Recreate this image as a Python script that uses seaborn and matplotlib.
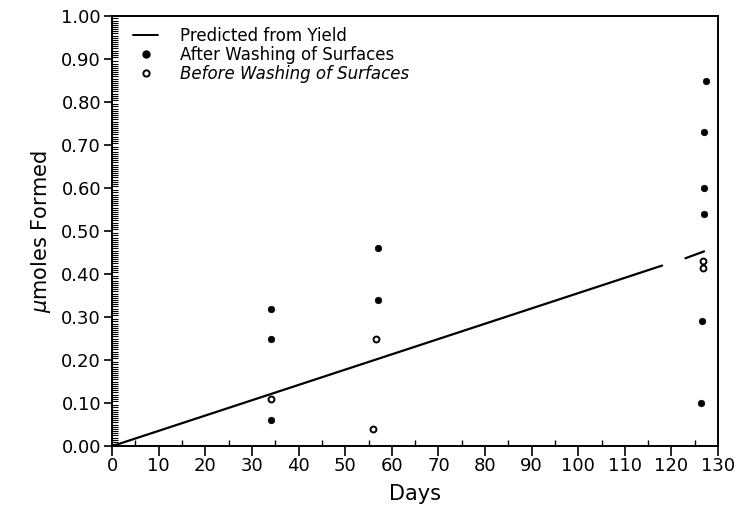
import numpy as np
import pandas as pd
import matplotlib
matplotlib.use("Agg")
import matplotlib.pyplot as plt
from matplotlib.lines import Line2D
from matplotlib.ticker import MultipleLocator, FormatStrFormatter
import seaborn as sns

# ---- data ----
line_days = [0, 118, 123, 127]
line_vals = [0.0, 0.420, 0.437, 0.453]
line_segment = [0, 0, 1, 1]

after_days = [34, 34, 34, 57, 57, 127.5, 127, 127, 127, 126.5, 126.3]
after_vals = [0.32, 0.25, 0.06, 0.46, 0.34, 0.85, 0.73, 0.60, 0.54, 0.29, 0.10]

before_days = [34, 56.5, 56, 126.8, 126.8]
before_vals = [0.11, 0.25, 0.04, 0.43, 0.415]

legend_labels = ["Predicted from Yield", "After Washing of Surfaces", "Before Washing of Surfaces"]

sns.set_style("ticks")
plt.rcParams['font.family'] = ['DejaVu Sans']
plt.rcParams['text.color'] = 'black'
plt.rcParams['axes.labelcolor'] = 'black'
plt.rcParams['xtick.color'] = 'black'
plt.rcParams['ytick.color'] = 'black'

fig = plt.figure(figsize=(7.38, 5.23), dpi=100)
ax = fig.add_axes([0.152, 0.147, 0.821, 0.822])

line_df = pd.DataFrame({"days": line_days, "val": line_vals, "seg": line_segment})
sns.lineplot(data=line_df, x="days", y="val", units="seg", estimator=None,
             color="black", linewidth=1.6, ax=ax, legend=False)

after_df = pd.DataFrame({"days": after_days, "val": after_vals})
sns.scatterplot(data=after_df, x="days", y="val", color="black", s=22,
                edgecolor="black", linewidth=0.5, ax=ax, legend=False, zorder=3)

before_df = pd.DataFrame({"days": before_days, "val": before_vals})
sns.scatterplot(data=before_df, x="days", y="val", facecolor="white", s=18,
                edgecolor="black", linewidth=1.4, ax=ax, legend=False, zorder=3)

ax.set_xlim(0, 130)
ax.set_ylim(0, 1.0)
ax.xaxis.set_major_locator(MultipleLocator(10))
ax.xaxis.set_minor_locator(MultipleLocator(5))
ax.yaxis.set_major_locator(MultipleLocator(0.1))
ax.yaxis.set_minor_locator(MultipleLocator(0.005))
ax.yaxis.set_major_formatter(FormatStrFormatter("%.2f"))

ax.tick_params(axis="x", which="major", direction="out", length=7, width=1.2,
               labelsize=13, pad=1, colors="black")
ax.tick_params(axis="x", which="minor", direction="in", length=4, width=1.0)
ax.tick_params(axis="y", which="major", direction="out", length=6, width=1.2,
               labelsize=13, pad=2, colors="black")
ax.tick_params(axis="y", which="minor", direction="in", length=4, width=0.8)

for sp in ax.spines.values():
    sp.set_visible(True)
    sp.set_linewidth(1.4)
    sp.set_color("black")

ax.set_xlabel("Days", fontsize=15, labelpad=6)
ax.set_ylabel(r"$\mu$moles Formed", fontsize=15, labelpad=6)

handles = [
    Line2D([0], [0], color="black", linewidth=1.4),
    Line2D([0], [0], marker="o", color="black", linestyle="none", markersize=5),
    Line2D([0], [0], marker="o", markerfacecolor="white", markeredgecolor="black",
           markeredgewidth=1.4, linestyle="none", markersize=4.5),
]
leg = ax.legend(handles, legend_labels, loc="upper left", frameon=False,
                fontsize=12, handlelength=1.5, handletextpad=1.3,
                labelspacing=0.05, bbox_to_anchor=(0.01, 1.01))
leg.get_texts()[2].set_style("italic")

fig.savefig("out.png", dpi=100)
